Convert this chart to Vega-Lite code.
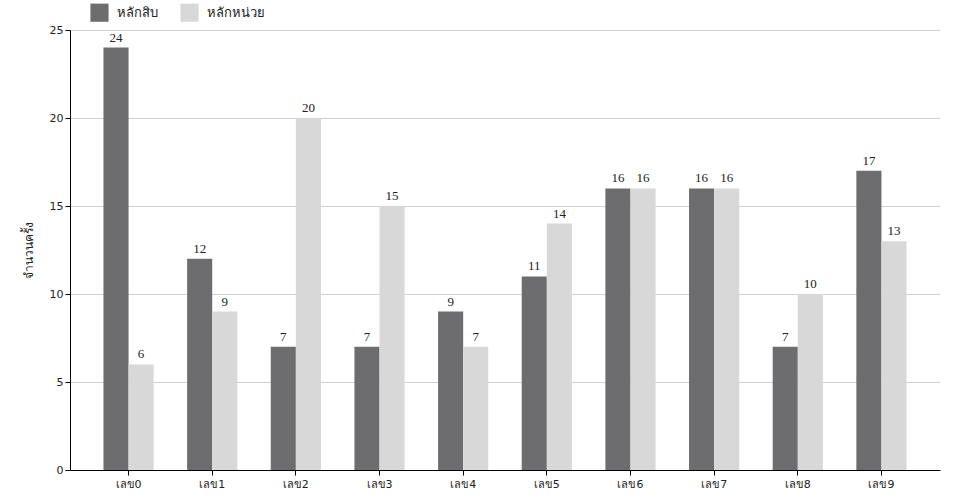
{
  "$schema": "https://vega.github.io/schema/vega-lite/v6.json",
  "autosize": "none",
  "width": 870,
  "height": 440,
  "padding": {"left": 70, "top": 30, "right": 20, "bottom": 30},
  "background": "white",
  "config": {"view": {"stroke": null}},
  "data": {"values": [
    {"digit": "เลข0", "place": "หลักสิบ", "count": 24},
    {"digit": "เลข0", "place": "หลักหน่วย", "count": 6},
    {"digit": "เลข1", "place": "หลักสิบ", "count": 12},
    {"digit": "เลข1", "place": "หลักหน่วย", "count": 9},
    {"digit": "เลข2", "place": "หลักสิบ", "count": 7},
    {"digit": "เลข2", "place": "หลักหน่วย", "count": 20},
    {"digit": "เลข3", "place": "หลักสิบ", "count": 7},
    {"digit": "เลข3", "place": "หลักหน่วย", "count": 15},
    {"digit": "เลข4", "place": "หลักสิบ", "count": 9},
    {"digit": "เลข4", "place": "หลักหน่วย", "count": 7},
    {"digit": "เลข5", "place": "หลักสิบ", "count": 11},
    {"digit": "เลข5", "place": "หลักหน่วย", "count": 14},
    {"digit": "เลข6", "place": "หลักสิบ", "count": 16},
    {"digit": "เลข6", "place": "หลักหน่วย", "count": 16},
    {"digit": "เลข7", "place": "หลักสิบ", "count": 16},
    {"digit": "เลข7", "place": "หลักหน่วย", "count": 16},
    {"digit": "เลข8", "place": "หลักสิบ", "count": 7},
    {"digit": "เลข8", "place": "หลักหน่วย", "count": 10},
    {"digit": "เลข9", "place": "หลักสิบ", "count": 17},
    {"digit": "เลข9", "place": "หลักหน่วย", "count": 13}
  ]},
  "encoding": {
    "x": {"field": "digit", "type": "nominal", "sort": null,
      "scale": {"paddingInner": 0.4, "paddingOuter": 0.4},
      "axis": {"title": null, "labelAngle": 0, "labelFont": "DejaVu Sans", "labelFontSize": 11, "labelColor": "#222", "domainColor": "black", "tickColor": "black", "tickSize": 5, "labelPadding": 3, "grid": false}},
    "xOffset": {"field": "place", "type": "nominal", "sort": ["หลักสิบ", "หลักหน่วย"]},
    "y": {"field": "count", "type": "quantitative",
      "scale": {"domain": [0, 25]},
      "axis": {"title": "จำนวนครั้ง", "titleFont": "DejaVu Sans", "titleFontSize": 12, "titleFontWeight": "normal", "titleColor": "#222", "titlePadding": 14,
        "values": [0, 5, 10, 15, 20, 25], "labelFont": "DejaVu Sans", "labelFontSize": 11, "labelColor": "#222",
        "domainColor": "black", "tickColor": "black", "tickSize": 5, "gridColor": "#d0d0d0", "grid": true}}
  },
  "layer": [
    {"mark": {"type": "bar"},
     "encoding": {
       "color": {"field": "place", "type": "nominal", "sort": ["หลักสิบ", "หลักหน่วย"],
         "scale": {"domain": ["หลักสิบ", "หลักหน่วย"], "range": ["#6d6d6f", "#d8d8d8"]},
         "legend": {"title": null, "orient": "none", "legendX": 20, "legendY": -27, "direction": "horizontal",
           "symbolType": "square", "symbolSize": 330, "symbolStrokeWidth": 0, "labelFont": "DejaVu Sans", "labelFontSize": 13, "labelColor": "#222", "columnPadding": 22, "labelOffset": 8}}
     }},
    {"mark": {"type": "text", "baseline": "bottom", "dy": -3, "font": "Liberation Serif", "fontSize": 13, "color": "#222"},
     "encoding": {"text": {"field": "count", "type": "quantitative"}}}
  ]
}
